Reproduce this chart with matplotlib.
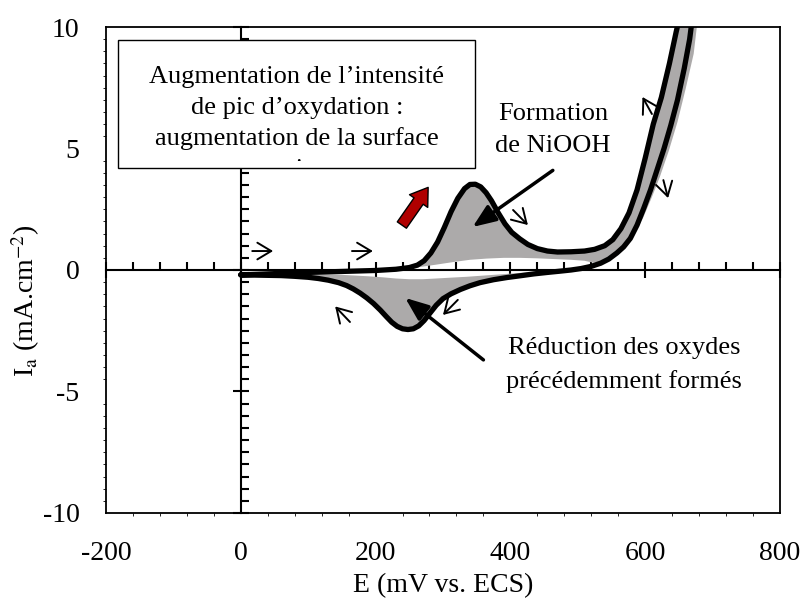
import matplotlib.pyplot as plt
import numpy as np
from matplotlib.patches import Rectangle
from matplotlib.ticker import MultipleLocator
from matplotlib.transforms import Bbox, TransformedBbox

plt.rcParams['font.family'] = ['Liberation Serif', 'DejaVu Serif']
plt.rcParams['axes.unicode_minus'] = False
plt.rcParams['mathtext.fontset'] = 'stix'

# last cycle (thick black line), anodic sweep, E in mV, I in mA/cm2
fwd_E = [0, 50, 100, 150, 200, 230, 250, 262, 272, 282, 292, 302, 312, 322, 332, 340,
         348, 356, 364, 372, 382, 392, 402, 414, 426, 440, 455, 470, 490, 510, 525, 540,
         552, 564, 576, 588, 600, 612, 624, 636, 646, 656]
fwd_I = [-0.2, -0.15, -0.1, -0.06, -0.02, 0.03, 0.1, 0.2, 0.38, 0.7, 1.15, 1.75, 2.4, 2.95, 3.35, 3.52,
         3.53, 3.42, 3.18, 2.85, 2.35, 1.9, 1.55, 1.28, 1.05, 0.88, 0.78, 0.74, 0.75, 0.78, 0.85, 1.0,
         1.25, 1.7, 2.35, 3.3, 4.6, 6.0, 7.1, 8.5, 9.8, 11.0]

# last cycle, cathodic sweep
rev_E = [672, 666, 658, 648, 638, 628, 618, 608, 598, 588, 578, 568, 558, 546, 534, 520,
         505, 490, 473, 455, 435, 414, 395, 375, 355, 340, 326, 312, 300, 290, 280, 272,
         264, 256, 248, 240, 232, 224, 216, 207, 197, 187, 177, 167, 157, 145, 130, 115,
         100, 80, 60, 40, 20, 0]
rev_I = [10.8, 9.5, 8.3, 7.0, 5.95, 5.0, 4.15, 3.3, 2.55, 1.85, 1.3, 0.95, 0.7, 0.45, 0.28, 0.15,
         0.06, 0.0, -0.05, -0.1, -0.16, -0.24, -0.31, -0.4, -0.52, -0.65, -0.8, -0.98, -1.18, -1.45, -1.8, -2.08,
         -2.3, -2.42, -2.45, -2.42, -2.32, -2.15, -1.92, -1.65, -1.38, -1.15, -0.95, -0.78, -0.64, -0.52, -0.42, -0.35,
         -0.3, -0.26, -0.23, -0.22, -0.21, -0.2]

# first cycle (inner edge of the grey band), anodic sweep
first_fwd_E = [0, 100, 200, 240, 265, 290, 316, 340, 365, 390, 414, 440, 465, 490, 510,
               523, 535, 548, 560, 573, 585, 597, 610, 622, 635, 648, 660, 672, 680]
first_fwd_I = [-0.15, -0.1, -0.02, 0.05, 0.12, 0.22, 0.33, 0.42, 0.47, 0.5, 0.5, 0.48, 0.45, 0.42, 0.38,
               0.3, 0.35, 0.5, 0.75, 1.1, 1.55, 2.15, 3.0, 3.85, 4.9, 6.1, 7.45, 8.9, 10.8]

# first cycle, cathodic sweep
first_rev_E = [558, 545, 530, 515, 500, 485, 470, 450, 430, 414, 395, 375, 355, 335, 315,
               290, 270, 250, 230, 210, 190, 170, 150, 120, 100, 50, 0]
first_rev_I = [0.7, 0.42, 0.22, 0.1, 0.04, 0.0, -0.02, -0.05, -0.09, -0.12, -0.16, -0.2, -0.24, -0.28, -0.31,
               -0.35, -0.38, -0.38, -0.35, -0.3, -0.26, -0.23, -0.2, -0.18, -0.17, -0.16, -0.15]

x_ticks = [-200, 0, 200, 400, 600, 800]
y_ticks = [-10, -5, 0, 5, 10]

box_lines = ["Augmentation de l\u2019intensit\u00e9", "de pic d\u2019oxydation :",
             "augmentation de la surface", "active"]

fig = plt.figure(figsize=(8.06, 6.03), dpi=100)
pos = [0.1315, 0.1493, 0.8362, 0.8059]

# axes crossing at the origin (drawn below the curves)
ax0 = fig.add_axes(pos)
# frame, labels and curves
ax = fig.add_axes(pos, sharex=ax0, sharey=ax0)
ax.patch.set_visible(False)

ax.set_xlim(-200, 800)
ax.set_ylim(-10, 10)
ax.set_xticks(x_ticks)
ax.set_yticks(y_ticks)
ax.tick_params(length=0, labelsize=20)
ax.tick_params(axis='x', pad=20)
ax.tick_params(axis='y', pad=19)
for s in ax.spines.values():
    s.set_linewidth(1.3)

ax0.spines['top'].set_visible(False)
ax0.spines['right'].set_visible(False)
ax0.spines['left'].set_position(('data', 0))
ax0.spines['bottom'].set_position(('data', 0))
ax0.spines['left'].set_linewidth(1.5)
ax0.spines['bottom'].set_linewidth(1.5)
ax0.xaxis.set_minor_locator(MultipleLocator(40))
ax0.yaxis.set_minor_locator(MultipleLocator(0.5))
ax0.tick_params(labelleft=False, labelbottom=False)
ax0.tick_params(which='major', direction='inout', length=11, width=1.5)
ax0.tick_params(which='minor', direction='in', length=6, width=1.5)

grey = '#acaaaa'
# grey band of the intermediate cycles
ax.fill(np.concatenate([fwd_E, first_fwd_E[::-1]]),
        np.concatenate([fwd_I, first_fwd_I[::-1]]), color=grey, lw=0, zorder=2)
rev_E_arr = np.array(rev_E)
rev_I_arr = np.array(rev_I)
low = rev_E_arr <= 560
ax.fill(np.concatenate([rev_E_arr[low], first_rev_E[::-1]]),
        np.concatenate([rev_I_arr[low], first_rev_I[::-1]]), color=grey, lw=0, zorder=2)

ax.plot(fwd_E + rev_E, fwd_I + rev_I, color='black', lw=3.8,
        solid_capstyle='round', solid_joinstyle='round', zorder=3)

ax.set_xlabel('E (mV vs. ECS)', fontsize=20, labelpad=5)
ax.set_ylabel(r'I$_{\mathrm{a}}$ (mA.cm$^{\mathrm{-2}}$)', fontsize=20)
ax.yaxis.set_label_coords(-0.095, 0.438)

# text box, last line cut by the box margin
box = Rectangle((-182, 4.2), 530, 5.27, fc='white', ec='black', lw=1.0, zorder=5)
ax.add_patch(box)
clip = TransformedBbox(Bbox([[-182, 4.49], [348, 9.47]]), ax.transData)
for i, line in enumerate(box_lines):
    t = ax.text(83, 7.70 - i * 1.276, line, ha='center', va='baseline',
                fontsize=19, zorder=6, clip_on=True)
    t.set_clip_box(clip)

ax.text(463, 5.76, "Formation\nde NiOOH", ha='center', va='center', fontsize=19,
        linespacing=1.55, zorder=6)
ax.text(569, -3.91, "R\u00e9duction des oxydes\npr\u00e9c\u00e9demment form\u00e9s",
        ha='center', va='center', fontsize=19, linespacing=1.65, zorder=6)

# pointer arrows
ax.annotate('', xy=(344, 1.77), xytext=(463, 4.1),
            arrowprops=dict(arrowstyle='-|>,head_length=1.0,head_width=0.4',
                            color='black', lw=2.5, mutation_scale=14,
                            shrinkA=0, shrinkB=0), zorder=6)
ax.annotate('', xy=(244, -1.15), xytext=(360, -3.7),
            arrowprops=dict(arrowstyle='-|>,head_length=1.0,head_width=0.4',
                            color='black', lw=2.5, mutation_scale=14,
                            shrinkA=0, shrinkB=0), zorder=6)

# red arrow
ax.annotate('', xy=(278, 3.4), xytext=(239, 1.85),
            arrowprops=dict(arrowstyle='simple,head_length=0.6,head_width=0.8,tail_width=0.4',
                            fc='#b00000', ec='black', lw=1.0, mutation_scale=20,
                            shrinkA=0, shrinkB=0), zorder=6)

# sweep direction arrows
sweep_arrows = [((17, 0.78), (48, 0.78)), ((165, 0.78), (196, 0.78)),
                ((404, 2.47), (426, 1.85)), ((610, 6.42), (596, 7.12)),
                ((627, 3.7), (634, 2.96)), ((322, -1.23), (300, -1.85)),
                ((162, -2.14), (140, -1.5))]
for (x0, y0), (x1, y1) in sweep_arrows:
    ax.annotate('', xy=(x1, y1), xytext=(x0, y0),
                arrowprops=dict(arrowstyle='->,head_length=0.5,head_width=0.3',
                                color='black', lw=1.4, mutation_scale=20,
                                shrinkA=0, shrinkB=0), zorder=6)

fig.savefig('out.png', dpi=100)
